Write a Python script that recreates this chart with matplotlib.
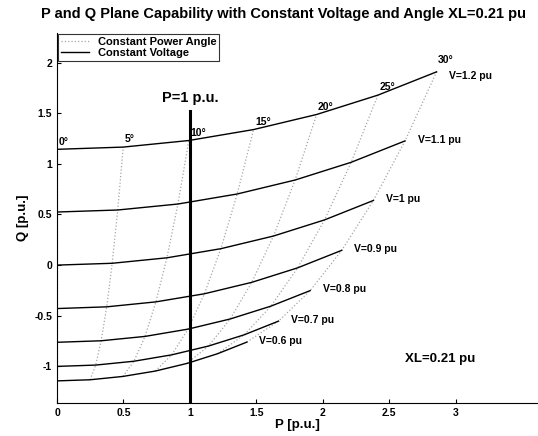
import numpy as np
import matplotlib
matplotlib.use('Agg')
import matplotlib.pyplot as plt
import matplotlib as mpl
mpl.rcParams['font.family'] = ['Liberation Sans', 'DejaVu Sans']
mpl.rcParams['font.weight'] = 'bold'
mpl.rcParams['axes.titleweight'] = 'bold'
mpl.rcParams['axes.labelweight'] = 'bold'

# power angles (deg) and voltages (pu)
angles = [0, 5, 10, 15, 20, 25, 30]
volts = [0.6, 0.7, 0.8, 0.9, 1.0, 1.1, 1.2]
v_labels = ['V=0.6 pu', 'V=0.7 pu', 'V=0.8 pu', 'V=0.9 pu', 'V=1 pu', 'V=1.1 pu', 'V=1.2 pu']

# P [p.u.], one row per voltage, one column per angle
P_pts = [
    [0, 0.249, 0.496, 0.740, 0.977, 1.208, 1.429],
    [0, 0.291, 0.579, 0.863, 1.140, 1.409, 1.667],
    [0, 0.332, 0.662, 0.986, 1.303, 1.610, 1.905],
    [0, 0.374, 0.744, 1.109, 1.466, 1.811, 2.143],
    [0, 0.415, 0.827, 1.233, 1.629, 2.013, 2.381],
    [0, 0.457, 0.910, 1.356, 1.792, 2.214, 2.619],
    [0, 0.498, 0.992, 1.479, 1.954, 2.415, 2.857],
]
# Q [p.u.]
Q_pts = [
    [-1.143, -1.132, -1.099, -1.046, -0.971, -0.875, -0.760],
    [-1.000, -0.987, -0.949, -0.886, -0.799, -0.688, -0.553],
    [-0.762, -0.747, -0.704, -0.632, -0.532, -0.405, -0.252],
    [-0.429, -0.412, -0.363, -0.283, -0.170, -0.027, 0.146],
    [0.000, 0.018, 0.072, 0.162, 0.287, 0.446, 0.638],
    [0.524, 0.544, 0.603, 0.702, 0.840, 1.015, 1.226],
    [1.143, 1.165, 1.230, 1.338, 1.487, 1.678, 1.908],
]

P = np.array(P_pts)
Q = np.array(Q_pts)

fig = plt.figure(figsize=(5.38, 4.36), dpi=100)
ax = fig.add_axes([0.106, 0.076, 0.894, 0.848])

# constant angle lines
for j in range(len(angles)):
    ax.plot(P[:, j], Q[:, j], ':', color='0.65', lw=0.9,
            label='Constant Power Angle' if j == 0 else None)
# constant voltage lines
for i in range(len(volts)):
    ax.plot(P[i], Q[i], '-', color='k', lw=1.0,
            label='Constant Voltage' if i == 0 else None)
    dy = -3 if i == len(volts) - 1 else 1
    ax.annotate(v_labels[i], (P[i, -1], Q[i, -1]), xytext=(9, dy),
                textcoords='offset points', ha='left', va='center', fontsize=7.5)

for j, a in enumerate(angles):
    dy = 5 if j == len(angles) - 1 else 2
    ax.annotate('%d°' % a, (P[-1, j], Q[-1, j]), xytext=(1, dy),
                textcoords='offset points', ha='left', va='bottom', fontsize=7.5)

ax.plot([1, 1], [-1.36, 1.52], color='k', lw=2.2)
ax.text(1, 1.58, 'P=1 p.u.', ha='center', va='bottom', fontsize=10.5)
ax.text(2.62, -0.93, 'XL=0.21 pu', ha='left', va='center', fontsize=9.5)

ax.set_xlim(0, 3.62)
ax.set_ylim(-1.36, 2.29)
ax.set_xticks([0, 0.5, 1, 1.5, 2, 2.5, 3])
ax.set_xticklabels(['0', '0.5', '1', '1.5', '2', '2.5', '3'])
ax.set_yticks([-1, -0.5, 0, 0.5, 1, 1.5, 2])
ax.set_yticklabels(['-1', '-0.5', '0', '0.5', '1', '1.5', '2'])
ax.tick_params(direction='in', labelsize=7.5, length=3)
ax.spines['top'].set_visible(False)
ax.spines['right'].set_visible(False)
ax.set_xlabel('P [p.u.]', fontsize=9.5, labelpad=1)
ax.set_ylabel('Q [p.u.]', fontsize=9.5, labelpad=4)
ax.set_title('P and Q Plane Capability with Constant Voltage and Angle XL=0.21 pu',
             fontsize=10.5, pad=11, x=0.47)
leg = ax.legend(loc='upper left', fontsize=8, frameon=True, fancybox=False,
                edgecolor='k', borderpad=0.25, handlelength=2.5, labelspacing=0.1,
                borderaxespad=0.1)
leg.get_frame().set_linewidth(0.8)

fig.savefig('out.png', dpi=100)
